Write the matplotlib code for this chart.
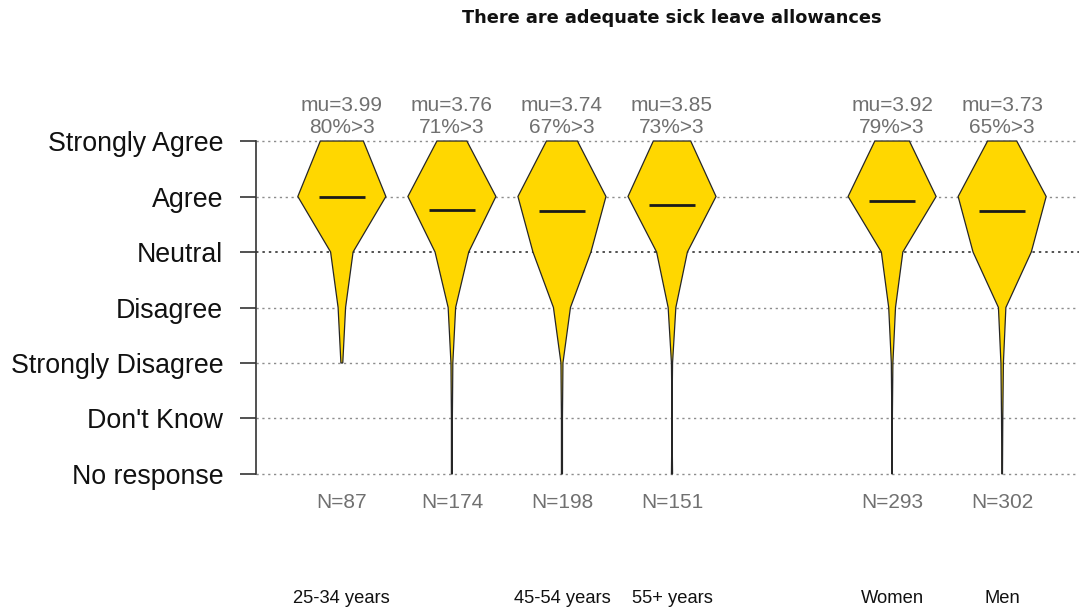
import numpy as np
import matplotlib
matplotlib.use("Agg")
import matplotlib.pyplot as plt
from matplotlib.patches import Polygon

plt.rcParams['font.family'] = ['Liberation Sans', 'DejaVu Sans']

# Response scale, bottom to top
levels = ["No response", "Don't Know", "Strongly Disagree", "Disagree",
          "Neutral", "Agree", "Strongly Agree"]
level_values = [-1, 0, 1, 2, 3, 4, 5]

# Groups and their tick labels (35-44 label is suppressed on the axis)
groups = ["25-34 years", "35-44 years", "45-54 years", "55+ years", "Women", "Men"]
tick_labels = ["25-34 years", "", "45-54 years", "55+ years", "Women", "Men"]

# Response counts per group, ordered as in `levels`
counts_25_34 = [0, 0, 1, 4, 12, 47, 23]
counts_35_44 = [1, 1, 2, 8, 36, 94, 32]
counts_45_54 = [1, 1, 2, 17, 58, 88, 31]
counts_55p = [1, 0, 1, 7, 28, 80, 34]
counts_women = [1, 1, 3, 13, 41, 168, 66]
counts_men = [1, 2, 4, 12, 94, 142, 47]
counts = [counts_25_34, counts_35_44, counts_45_54, counts_55p, counts_women, counts_men]

# Summary statistics printed above/below each group
means = [3.99, 3.76, 3.74, 3.85, 3.92, 3.73]
pct_agree = [80, 71, 67, 73, 79, 65]
n_resp = [87, 174, 198, 151, 293, 302]

title = "There are adequate sick leave allowances"

# ---- layout ----
W, H, DPI = 1079, 611, 100
fig = plt.figure(figsize=(W / DPI, H / DPI), dpi=DPI)
ax = fig.add_axes([256 / W, (H - 487.3) / H, (1088 - 256) / W, (487.3 - 127.7) / H])
ax.set_xlim(0.22, 7.78)
ax.set_ylim(-1.24, 5.24)

slots = [1, 2, 3, 4, 6, 7]          # leave an empty slot between age and gender
half_max = 0.4                      # half width of the widest level
mean_half = 0.21

# dotted reference lines
for v in level_values:
    col = "#222222" if v == 3 else "#8c8c8c"
    ax.plot([0.22, 7.78], [v, v], linestyle=(0, (1.6, 2.6)), color=col,
            lw=1.0 if v != 3 else 1.1, zorder=1, solid_capstyle="butt")

for x, c, mu, pct, n in zip(slots, counts, means, pct_agree, n_resp):
    c = np.asarray(c, dtype=float)
    nz = np.nonzero(c)[0]
    lo = nz.min()
    w = c / c.max() * half_max
    ys = np.array(level_values, dtype=float)[lo:]
    ws = w[lo:]
    right = np.column_stack([x + ws, ys])
    left = np.column_stack([x - ws[::-1], ys[::-1]])
    poly = Polygon(np.vstack([right, left]), closed=True, facecolor="#FFD700",
                   edgecolor="#262626", lw=0.9, zorder=3, joinstyle="miter")
    ax.add_patch(poly)
    ax.plot([x - mean_half, x + mean_half], [mu, mu], color="#1a1a1a", lw=2.0,
            zorder=4, solid_capstyle="butt")

    ax.annotate(f"mu={mu:.2f}", xy=(x, 5), xytext=(0, 25.5), textcoords="offset points",
                ha="center", va="center", fontsize=15, color="#707070",
                annotation_clip=False)
    ax.annotate(f"{pct}%>3", xy=(x, 5), xytext=(0, 9.6), textcoords="offset points",
                ha="center", va="center", fontsize=15, color="#707070",
                annotation_clip=False)
    ax.annotate(f"N={n}", xy=(x, -1), xytext=(0, -20.3), textcoords="offset points",
                ha="center", va="center", fontsize=15, color="#707070",
                annotation_clip=False)

for x, lab in zip(slots, tick_labels):
    if lab:
        ax.annotate(lab, xy=(x, -1), xytext=(0, -90), textcoords="offset points",
                    ha="center", va="center", fontsize=13.2, color="#111111",
                    annotation_clip=False)

# y axis
for s in ["top", "right", "bottom"]:
    ax.spines[s].set_visible(False)
ax.spines["left"].set_bounds(-1, 5)
ax.spines["left"].set_color("#333333")
ax.spines["left"].set_linewidth(1.2)
ax.set_yticks(level_values)
ax.set_yticklabels(levels, fontsize=19.3, color="#111111")
ax.tick_params(axis="y", length=11.5, width=1.2, color="#333333", pad=12)
ax.set_xticks([])

fig.text(672 / W, 1 - 18 / H, title, ha="center", va="center",
         fontsize=12.8, fontweight="bold", color="#111111", family="DejaVu Sans")

fig.savefig("out.png", dpi=DPI)
